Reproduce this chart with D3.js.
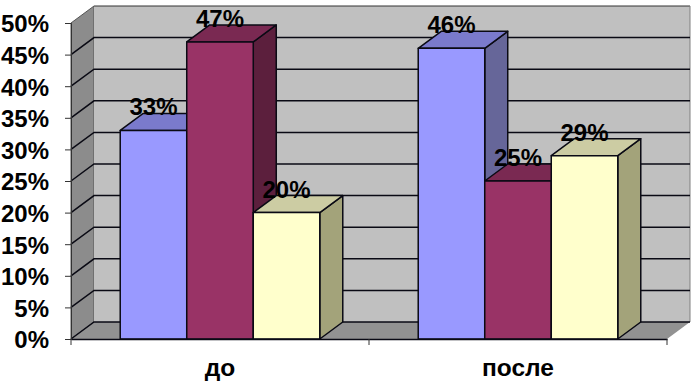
<!DOCTYPE html>
<html>
<head>
<meta charset="utf-8">
<script src="https://cdn.jsdelivr.net/npm/d3@7"></script>
<style>
html,body{margin:0;padding:0;background:#fff;}
svg{display:block;}
text{font-family:"Liberation Sans",Arial,sans-serif;font-weight:bold;fill:#000;}
</style>
</head>
<body>
<div id="chart"></div>
<script>
var categories = ["до","после"];
var seriesNames = ["a","b","c"];
var seriesA = [33,46];
var seriesB = [47,25];
var seriesC = [20,29];
var yTicks = [0,5,10,15,20,25,30,35,40,45,50];

var frontColors = ["#9999ff","#993366","#ffffcc"];
var topColors = ["#7a7acc","#7a2952","#cccca3"];
var sideColors = ["#666699","#5c1f3d","#a3a37a"];

var w = 696, h = 381;
var depthX = 23, depthY = -17; //3d offset of the back wall
var left = 71, right = 667, bottom = 339, top50 = 23;
var lineCol = "#0a0a14";

var svg = d3.select("#chart").append("svg")
	.attr("width",w)
	.attr("height",h);

var y = d3.scaleLinear().domain([0,50]).range([bottom,top50]);
var x0 = d3.scaleBand().domain(categories).range([left,right]).paddingInner(0).paddingOuter(0);
var x1 = d3.scaleBand().domain(seriesNames).range([0,x0.bandwidth()]).paddingOuter(0.74).paddingInner(0);

function pts(a){ return a.map(function(p){return p.join(",");}).join(" "); }

// walls and floor
svg.append("polygon")
	.attr("points",pts([[left,y(0)],[left,y(50)],[left+depthX,y(50)+depthY],[left+depthX,y(0)+depthY]]))
	.attr("fill","#8c8c8c").attr("stroke","#555").attr("stroke-width",1);
svg.append("rect")
	.attr("x",left+depthX).attr("y",y(50)+depthY)
	.attr("width",right-left).attr("height",y(0)-y(50))
	.attr("fill","#c0c0c0");
svg.append("line")
	.attr("x1",left+depthX).attr("x2",right+depthX)
	.attr("y1",y(50)+depthY).attr("y2",y(50)+depthY)
	.attr("stroke","#333").attr("stroke-width",1);
svg.append("line")
	.attr("x1",right+depthX).attr("x2",right+depthX)
	.attr("y1",y(50)+depthY).attr("y2",y(0)+depthY)
	.attr("stroke","#808080").attr("stroke-width",1);
svg.append("polygon")
	.attr("points",pts([[left,y(0)],[right,y(0)],[right+depthX,y(0)+depthY],[left+depthX,y(0)+depthY]]))
	.attr("fill","#929292");

// gridlines, run along the side wall then the back wall
svg.selectAll(".grid")
	.data(yTicks.filter(function(d){return d<50;}))
	.enter().append("polyline")
	.attr("class","grid")
	.attr("points",function(d){
		return pts([[left,y(d)],[left+depthX,y(d)+depthY],[right+depthX,y(d)+depthY]]);
	})
	.attr("fill","none")
	.attr("stroke",lineCol)
	.attr("stroke-width",1.5);

// bars
var seriesVals = [seriesA,seriesB,seriesC];
var bars = [];
categories.forEach(function(c,i){
	seriesNames.forEach(function(s,j){
		bars.push({cat:c,ser:s,idx:j,value:seriesVals[j][i]});
	});
});

var barG = svg.selectAll(".bar")
	.data(bars)
	.enter().append("g")
	.attr("class","bar")
	.attr("stroke",lineCol)
	.attr("stroke-width",1.5)
	.attr("stroke-linejoin","round");

function bx(d){ return x0(d.cat)+x1(d.ser); }

barG.append("polygon") //side
	.attr("points",function(d){
		var r = bx(d)+x1.bandwidth();
		return pts([[r,y(d.value)],[r+depthX,y(d.value)+depthY],[r+depthX,y(0)+depthY],[r,y(0)]]);
	})
	.attr("fill",function(d){return sideColors[d.idx];});
barG.append("polygon") //top
	.attr("points",function(d){
		var l = bx(d), r = l+x1.bandwidth();
		return pts([[l,y(d.value)],[l+depthX,y(d.value)+depthY],[r+depthX,y(d.value)+depthY],[r,y(d.value)]]);
	})
	.attr("fill",function(d){return topColors[d.idx];});
barG.append("rect") //front
	.attr("x",bx)
	.attr("y",function(d){return y(d.value);})
	.attr("width",x1.bandwidth())
	.attr("height",function(d){return y(0)-y(d.value);})
	.attr("fill",function(d){return frontColors[d.idx];});

// axes
var yAxis = d3.axisLeft(y)
	.tickValues(yTicks)
	.tickSize(6)
	.tickPadding(16)
	.tickFormat(function(d){return d+"%";});
var yG = svg.append("g")
	.attr("transform","translate("+left+",0)")
	.call(yAxis);
yG.selectAll("text").attr("font-size",24).attr("dy","0.37em").style("font-family",null);
yG.selectAll("line").attr("stroke","#333");
yG.select(".domain").attr("stroke","#333");

var xAxis = d3.axisBottom(x0).tickSize(0).tickPadding(20);
var xG = svg.append("g")
	.attr("transform","translate(0,"+bottom+")")
	.call(xAxis);
xG.select(".domain").attr("stroke",lineCol).attr("stroke-width",1.5);
xG.selectAll("text").attr("font-size",24.5).attr("y",36.7).attr("dy",0);
xG.selectAll(".cross")
	.data([left,x0(categories[1]),right])
	.enter().append("line")
	.attr("class","cross")
	.attr("x1",function(d){return d;}).attr("x2",function(d){return d;})
	.attr("y1",0).attr("y2",6)
	.attr("stroke","#333");

// value labels
svg.selectAll(".vlabel")
	.data(bars)
	.enter().append("text")
	.attr("class","vlabel")
	.attr("x",function(d){return bx(d)+x1.bandwidth()/2;})
	.attr("y",function(d){return y(d.value)-15;})
	.attr("text-anchor","middle")
	.attr("font-size",24)
	.text(function(d){return d.value+"%";});
</script>
</body>
</html>
